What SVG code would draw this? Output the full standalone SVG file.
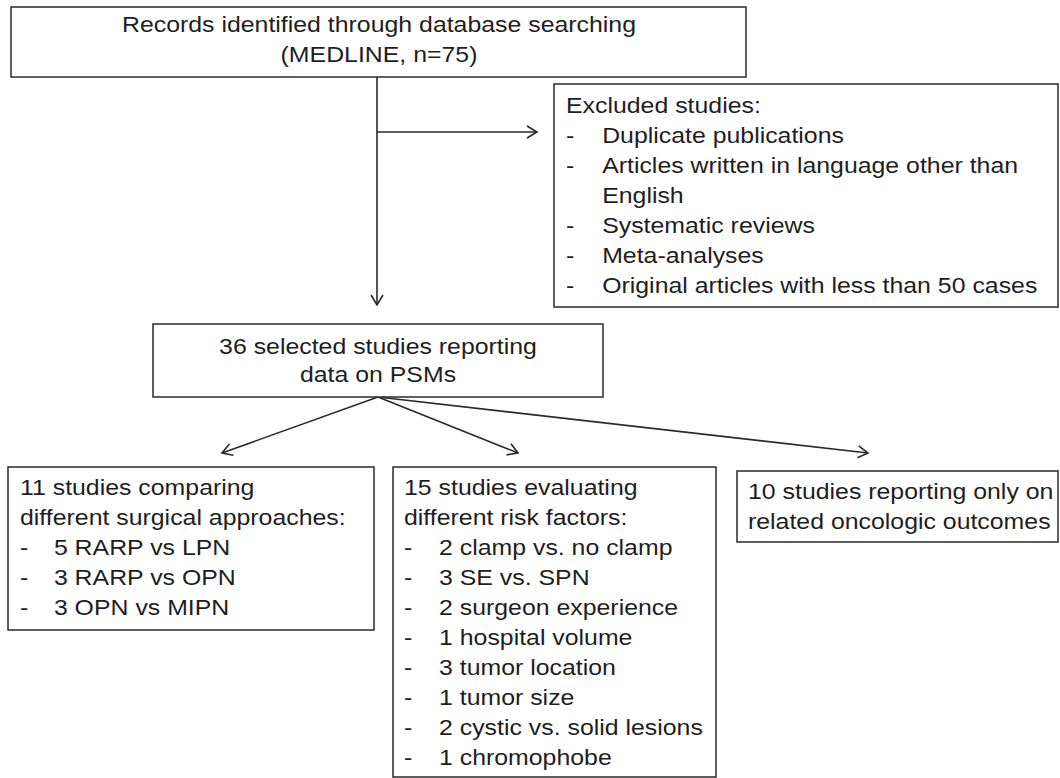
<svg xmlns="http://www.w3.org/2000/svg" width="1060" height="778" viewBox="0 0 1060 778">
<defs>
<style>
.box{fill:#fff;stroke:#2a2a2a;stroke-width:1.5}
.t{font-family:"Liberation Sans",Arial,Helvetica,sans-serif;font-size:22px;fill:#1e1e1e}
.c{text-anchor:middle}
.ln{stroke:#2a2a2a;stroke-width:1.6;fill:none}
</style>
<marker id="ah" markerUnits="userSpaceOnUse" markerWidth="14" markerHeight="16" refX="11" refY="7" orient="auto">
<path d="M1,1 L11,7 L1,13" fill="none" stroke="#2a2a2a" stroke-width="1.6"/>
</marker>
</defs>
<rect width="1060" height="778" fill="#fff"/>

<g id="connectors">
<line class="ln" x1="377" y1="77" x2="377" y2="305" marker-end="url(#ah)"/>
<line class="ln" x1="377" y1="132" x2="537" y2="132" marker-end="url(#ah)"/>
<line class="ln" x1="378" y1="397" x2="222" y2="453" marker-end="url(#ah)"/>
<line class="ln" x1="378" y1="397" x2="518" y2="453" marker-end="url(#ah)"/>
<line class="ln" x1="378" y1="397" x2="868" y2="453" marker-end="url(#ah)"/>
</g>

<g id="records">
<rect class="box" x="11" y="7" width="735" height="70"/>
<g transform="translate(379,0) scale(1.13,1)">
<text class="t c" x="0" y="32">Records identified through database searching</text>
<text class="t c" x="0" y="62">(MEDLINE, n=75)</text>
</g>
</g>

<g id="excluded">
<rect class="box" x="554" y="84" width="504" height="223"/>
<g transform="translate(566,0) scale(1.13,1)">
<text class="t" x="0" y="113">Excluded studies:</text>
<text class="t" x="0" y="143">-</text><text class="t" x="32" y="143">Duplicate publications</text>
<text class="t" x="0" y="173">-</text><text class="t" x="32" y="173">Articles written in language other than</text>
<text class="t" x="32" y="203">English</text>
<text class="t" x="0" y="233">-</text><text class="t" x="32" y="233">Systematic reviews</text>
<text class="t" x="0" y="263">-</text><text class="t" x="32" y="263">Meta-analyses</text>
<text class="t" x="0" y="293">-</text><text class="t" x="32" y="293">Original articles with less than 50 cases</text>
</g>
</g>

<g id="selected">
<rect class="box" x="153" y="324" width="450" height="73"/>
<g transform="translate(378,0) scale(1.13,1)">
<text class="t c" x="0" y="354">36 selected studies reporting</text>
<text class="t c" x="0" y="382">data on PSMs</text>
</g>
</g>

<g id="approaches">
<rect class="box" x="8" y="467" width="366" height="163"/>
<g transform="translate(20,0) scale(1.13,1)">
<text class="t" x="0" y="495">11 studies comparing</text>
<text class="t" x="0" y="525">different surgical approaches:</text>
<text class="t" x="0" y="555">-</text><text class="t" x="30" y="555">5 RARP vs LPN</text>
<text class="t" x="0" y="585">-</text><text class="t" x="30" y="585">3 RARP vs OPN</text>
<text class="t" x="0" y="615">-</text><text class="t" x="30" y="615">3 OPN vs MIPN</text>
</g>
</g>

<g id="riskfactors">
<rect class="box" x="393" y="467" width="323" height="310"/>
<g transform="translate(404,0) scale(1.13,1)">
<text class="t" x="0" y="495">15 studies evaluating</text>
<text class="t" x="0" y="525">different risk factors:</text>
<text class="t" x="0" y="555">-</text><text class="t" x="31" y="555">2 clamp vs. no clamp</text>
<text class="t" x="0" y="585">-</text><text class="t" x="31" y="585">3 SE vs. SPN</text>
<text class="t" x="0" y="615">-</text><text class="t" x="31" y="615">2 surgeon experience</text>
<text class="t" x="0" y="645">-</text><text class="t" x="31" y="645">1 hospital volume</text>
<text class="t" x="0" y="675">-</text><text class="t" x="31" y="675">3 tumor location</text>
<text class="t" x="0" y="705">-</text><text class="t" x="31" y="705">1 tumor size</text>
<text class="t" x="0" y="735">-</text><text class="t" x="31" y="735">2 cystic vs. solid lesions</text>
<text class="t" x="0" y="765">-</text><text class="t" x="31" y="765">1 chromophobe</text>
</g>
</g>

<g id="oncologic">
<rect class="box" x="737" y="471" width="321" height="71"/>
<g transform="translate(748,0) scale(1.13,1)">
<text class="t" x="0" y="499">10 studies reporting only on</text>
<text class="t" x="0" y="529">related oncologic outcomes</text>
</g>
</g>
</svg>
